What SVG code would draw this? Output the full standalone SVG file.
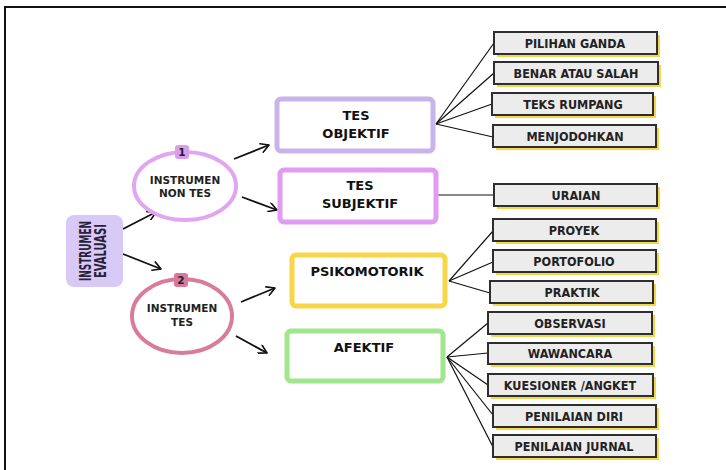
<svg xmlns="http://www.w3.org/2000/svg" width="726" height="470" viewBox="0 0 726 470">
<defs>
<marker id="arr" viewBox="0 0 10 10" refX="9" refY="5" markerWidth="10" markerHeight="10" markerUnits="userSpaceOnUse" orient="auto">
<path d="M1,0.5 L9,5 L1,9.5" fill="none" stroke="#111" stroke-width="1.6" stroke-linecap="round" stroke-linejoin="round"/>
</marker>
<style>
.leaf-shadow{fill:#f5d54a}
.leaf{fill:#ececec;stroke:#2e2e2e;stroke-width:2}
.lt{font-family:"DejaVu Sans Condensed","DejaVu Sans",sans-serif;font-weight:bold;font-size:12.5px;fill:#222;text-anchor:middle}
.main{fill:#fff;stroke-width:5}
.mt{font-family:"DejaVu Sans",sans-serif;font-weight:bold;font-size:13px;fill:#111;text-anchor:middle}
.ct{font-family:"DejaVu Sans",sans-serif;font-weight:bold;font-size:10.5px;fill:#222;text-anchor:middle}
.conn line{stroke:#111;stroke-width:1.2}
.arrow{stroke:#111;stroke-width:1.8;fill:none;marker-end:url(#arr)}
.rt{font-family:"DejaVu Sans Condensed","DejaVu Sans",sans-serif;font-weight:bold;font-size:15px;fill:#2a2238;text-anchor:middle}
</style>
</defs>
<rect width="726" height="470" fill="#fff"/>
<path d="M5,470 L5,7 L726,7" fill="none" stroke="#111" stroke-width="2"/>

<g id="connectors">
<g class="conn">
<line x1="436" y1="124" x2="494" y2="43"/>
<line x1="436" y1="124" x2="494" y2="73"/>
<line x1="436" y1="124" x2="492" y2="104"/>
<line x1="436" y1="124" x2="493" y2="137"/>
<line x1="437" y1="195" x2="494" y2="195"/>
<line x1="449" y1="281" x2="493" y2="231"/>
<line x1="449" y1="281" x2="493" y2="262"/>
<line x1="449" y1="281" x2="490" y2="293"/>
<line x1="447" y1="357" x2="488" y2="323"/>
<line x1="447" y1="357" x2="488" y2="353"/>
<line x1="447" y1="357" x2="488" y2="385"/>
<line x1="447" y1="357" x2="493" y2="415"/>
<line x1="447" y1="357" x2="493" y2="447"/>
</g>
<line class="arrow" x1="123" y1="229" x2="156" y2="212"/>
<line class="arrow" x1="123" y1="254" x2="161" y2="269"/>
<line class="arrow" x1="234" y1="159" x2="269" y2="145"/>
<line class="arrow" x1="242" y1="197" x2="277" y2="210"/>
<line class="arrow" x1="241" y1="302" x2="275" y2="288"/>
<line class="arrow" x1="236" y1="336" x2="267" y2="353"/>
</g>

<g id="root">
<rect x="66" y="215" width="57" height="72" rx="8" fill="#d8c9f7"/>
<text transform="rotate(-90)" x="-251" y="91" class="rt" textLength="60" lengthAdjust="spacingAndGlyphs">INSTRUMEN</text>
<text transform="rotate(-90)" x="-251" y="106" class="rt" textLength="54" lengthAdjust="spacingAndGlyphs">EVALUASI</text>
</g>

<g id="non-tes">
<ellipse cx="185" cy="186" rx="51" ry="34" fill="#fff" stroke="#e2a5f1" stroke-width="4"/>
<rect x="175" y="145" width="14" height="14" rx="3" fill="#d89ded"/>
<text x="182" y="156" class="ct" font-size="9">1</text>
<text x="185" y="184" class="ct">INSTRUMEN</text>
<text x="185" y="197" class="ct">NON TES</text>
</g>

<g id="tes">
<ellipse cx="182" cy="316" rx="50" ry="37" fill="#fff" stroke="#d97b9a" stroke-width="4"/>
<rect x="174" y="273" width="14" height="14" rx="3" fill="#d9789a"/>
<text x="181" y="284" class="ct" font-size="9">2</text>
<text x="182" y="312" class="ct">INSTRUMEN</text>
<text x="182" y="326" class="ct">TES</text>
</g>

<g id="tes-objektif">
<rect x="277" y="99" width="156" height="52" rx="4" class="main" stroke="#c8b4eb"/>
<text x="356" y="120" class="mt">TES</text>
<text x="356" y="138" class="mt">OBJEKTIF</text>
</g>

<g id="tes-subjektif">
<rect x="280" y="170" width="156" height="52" rx="4" class="main" stroke="#e29bf2"/>
<text x="360" y="190" class="mt">TES</text>
<text x="360" y="208" class="mt">SUBJEKTIF</text>
</g>

<g id="psikomotorik">
<rect x="292" y="255" width="153" height="51" rx="4" class="main" stroke="#f7d648"/>
<text x="367" y="276" class="mt">PSIKOMOTORIK</text>
</g>

<g id="afektif">
<rect x="287" y="331" width="156" height="50" rx="4" class="main" stroke="#9fe68c"/>
<text x="364" y="352" class="mt">AFEKTIF</text>
</g>

<g id="pilihan-ganda"><rect x="497" y="35" width="163" height="22" class="leaf-shadow"/><rect x="494" y="32" width="163" height="22" class="leaf"/><text x="575" y="48" class="lt">PILIHAN GANDA</text></g>
<g id="benar-atau-salah"><rect x="497" y="65" width="164" height="22" class="leaf-shadow"/><rect x="494" y="62" width="164" height="22" class="leaf"/><text x="576" y="78" class="lt">BENAR ATAU SALAH</text></g>
<g id="teks-rumpang"><rect x="495" y="96" width="161" height="22" class="leaf-shadow"/><rect x="492" y="93" width="161" height="22" class="leaf"/><text x="573" y="109" class="lt">TEKS RUMPANG</text></g>
<g id="menjodohkan"><rect x="496" y="128" width="163" height="22" class="leaf-shadow"/><rect x="493" y="125" width="163" height="22" class="leaf"/><text x="575" y="141" class="lt">MENJODOHKAN</text></g>
<g id="uraian"><rect x="497" y="187" width="163" height="22" class="leaf-shadow"/><rect x="494" y="184" width="163" height="22" class="leaf"/><text x="576" y="200" class="lt">URAIAN</text></g>
<g id="proyek"><rect x="496" y="222" width="163" height="22" class="leaf-shadow"/><rect x="493" y="219" width="163" height="22" class="leaf"/><text x="574" y="235" class="lt">PROYEK</text></g>
<g id="portofolio"><rect x="496" y="253" width="163" height="22" class="leaf-shadow"/><rect x="493" y="250" width="163" height="22" class="leaf"/><text x="574" y="266" class="lt">PORTOFOLIO</text></g>
<g id="praktik"><rect x="493" y="284" width="163" height="22" class="leaf-shadow"/><rect x="490" y="281" width="163" height="22" class="leaf"/><text x="572" y="297" class="lt">PRAKTIK</text></g>
<g id="observasi"><rect x="491" y="315" width="164" height="22" class="leaf-shadow"/><rect x="488" y="312" width="164" height="22" class="leaf"/><text x="570" y="328" class="lt">OBSERVASI</text></g>
<g id="wawancara"><rect x="491" y="346" width="164" height="21" class="leaf-shadow"/><rect x="488" y="343" width="164" height="21" class="leaf"/><text x="570" y="358" class="lt">WAWANCARA</text></g>
<g id="kuesioner"><rect x="491" y="377" width="165" height="22" class="leaf-shadow"/><rect x="488" y="374" width="165" height="22" class="leaf"/><text x="570" y="390" class="lt">KUESIONER /ANGKET</text></g>
<g id="penilaian-diri"><rect x="496" y="408" width="163" height="22" class="leaf-shadow"/><rect x="493" y="405" width="163" height="22" class="leaf"/><text x="574" y="421" class="lt">PENILAIAN DIRI</text></g>
<g id="penilaian-jurnal"><rect x="496" y="438" width="163" height="22" class="leaf-shadow"/><rect x="493" y="435" width="163" height="22" class="leaf"/><text x="574" y="451" class="lt">PENILAIAN JURNAL</text></g>
</svg>
